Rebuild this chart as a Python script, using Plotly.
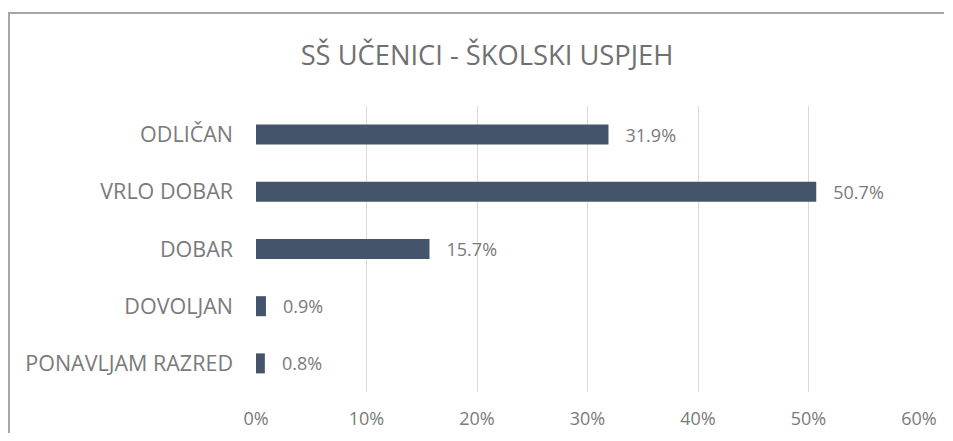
import plotly.graph_objects as go

categories = ["ODLIČAN", "VRLO DOBAR", "DOBAR", "DOVOLJAN", "PONAVLJAM RAZRED"]
values = [0.319, 0.507, 0.157, 0.009, 0.008]
tick_vals = [0, 0.1, 0.2, 0.3, 0.4, 0.5, 0.6]
tick_text = ["0%", "10%", "20%", "30%", "40%", "50%", "60%"]
title_text = "SŠ UČENICI - ŠKOLSKI USPJEH"

# page body has an 8px default margin, so figure coordinates are offset by 8px
OFF = 8
W, H = 953 - 2 * OFF, 441 - 2 * OFF
L, T = 256 - OFF, 106 - OFF
R = W - (919 - OFF)
B = H - (392 - OFF)
pw, ph = W - L - R, H - T - B

def px(x):
    return (x - OFF - L) / pw

def py(y):
    return (H - B - (y - OFF)) / ph

FONT = "Open Sans"
GRAY = "#7a7a7a"

fig = go.Figure(
    go.Bar(
        x=values,
        y=categories,
        orientation="h",
        marker=dict(color="#44546A", line=dict(width=0)),
        width=0.35,
        text=values,
        texttemplate="\u00a0\u00a0\u00a0%{x:.1%}",
        textposition="outside",
        constraintext="none",
        cliponaxis=False,
        textfont=dict(family=FONT, size=18, color=GRAY),
    )
)

fig.update_layout(
    width=W,
    height=H,
    autosize=False,
    margin=dict(l=L, r=R, t=T, b=B, pad=0, autoexpand=False),
    paper_bgcolor="white",
    plot_bgcolor="white",
    showlegend=False,
    title=dict(
        text=title_text,
        x=(487 - OFF) / W,
        xanchor="center",
        y=1 - (55 - OFF) / H,
        yanchor="middle",
        font=dict(family=FONT, size=27.3, color="#707070"),
    ),
    xaxis=dict(
        range=[0, 0.6],
        tickvals=tick_vals,
        ticktext=tick_text,
        showgrid=True,
        gridcolor="#D9D9D9",
        gridwidth=1,
        zeroline=False,
        showline=False,
        ticks="",
        ticklabelstandoff=14,
        tickfont=dict(family=FONT, size=18, color=GRAY),
        fixedrange=True,
        automargin=False,
    ),
    yaxis=dict(
        categoryorder="array",
        categoryarray=categories,
        autorange="reversed",
        showgrid=False,
        zeroline=False,
        showline=False,
        ticks="",
        ticklabelstandoff=22,
        tickfont=dict(family=FONT, size=21.5, color=GRAY),
        fixedrange=True,
        automargin=False,
    ),
    shapes=[
        dict(type="line", xref="paper", yref="paper",
             x0=px(9), x1=px(9), y0=py(13), y1=py(441),
             line=dict(color="#A6A6A6", width=2)),
        dict(type="line", xref="paper", yref="paper",
             x0=px(8), x1=px(944), y0=py(13), y1=py(13),
             line=dict(color="#A6A6A6", width=2)),
    ],
)

fig.write_html("out.html", config={"displayModeBar": False})
